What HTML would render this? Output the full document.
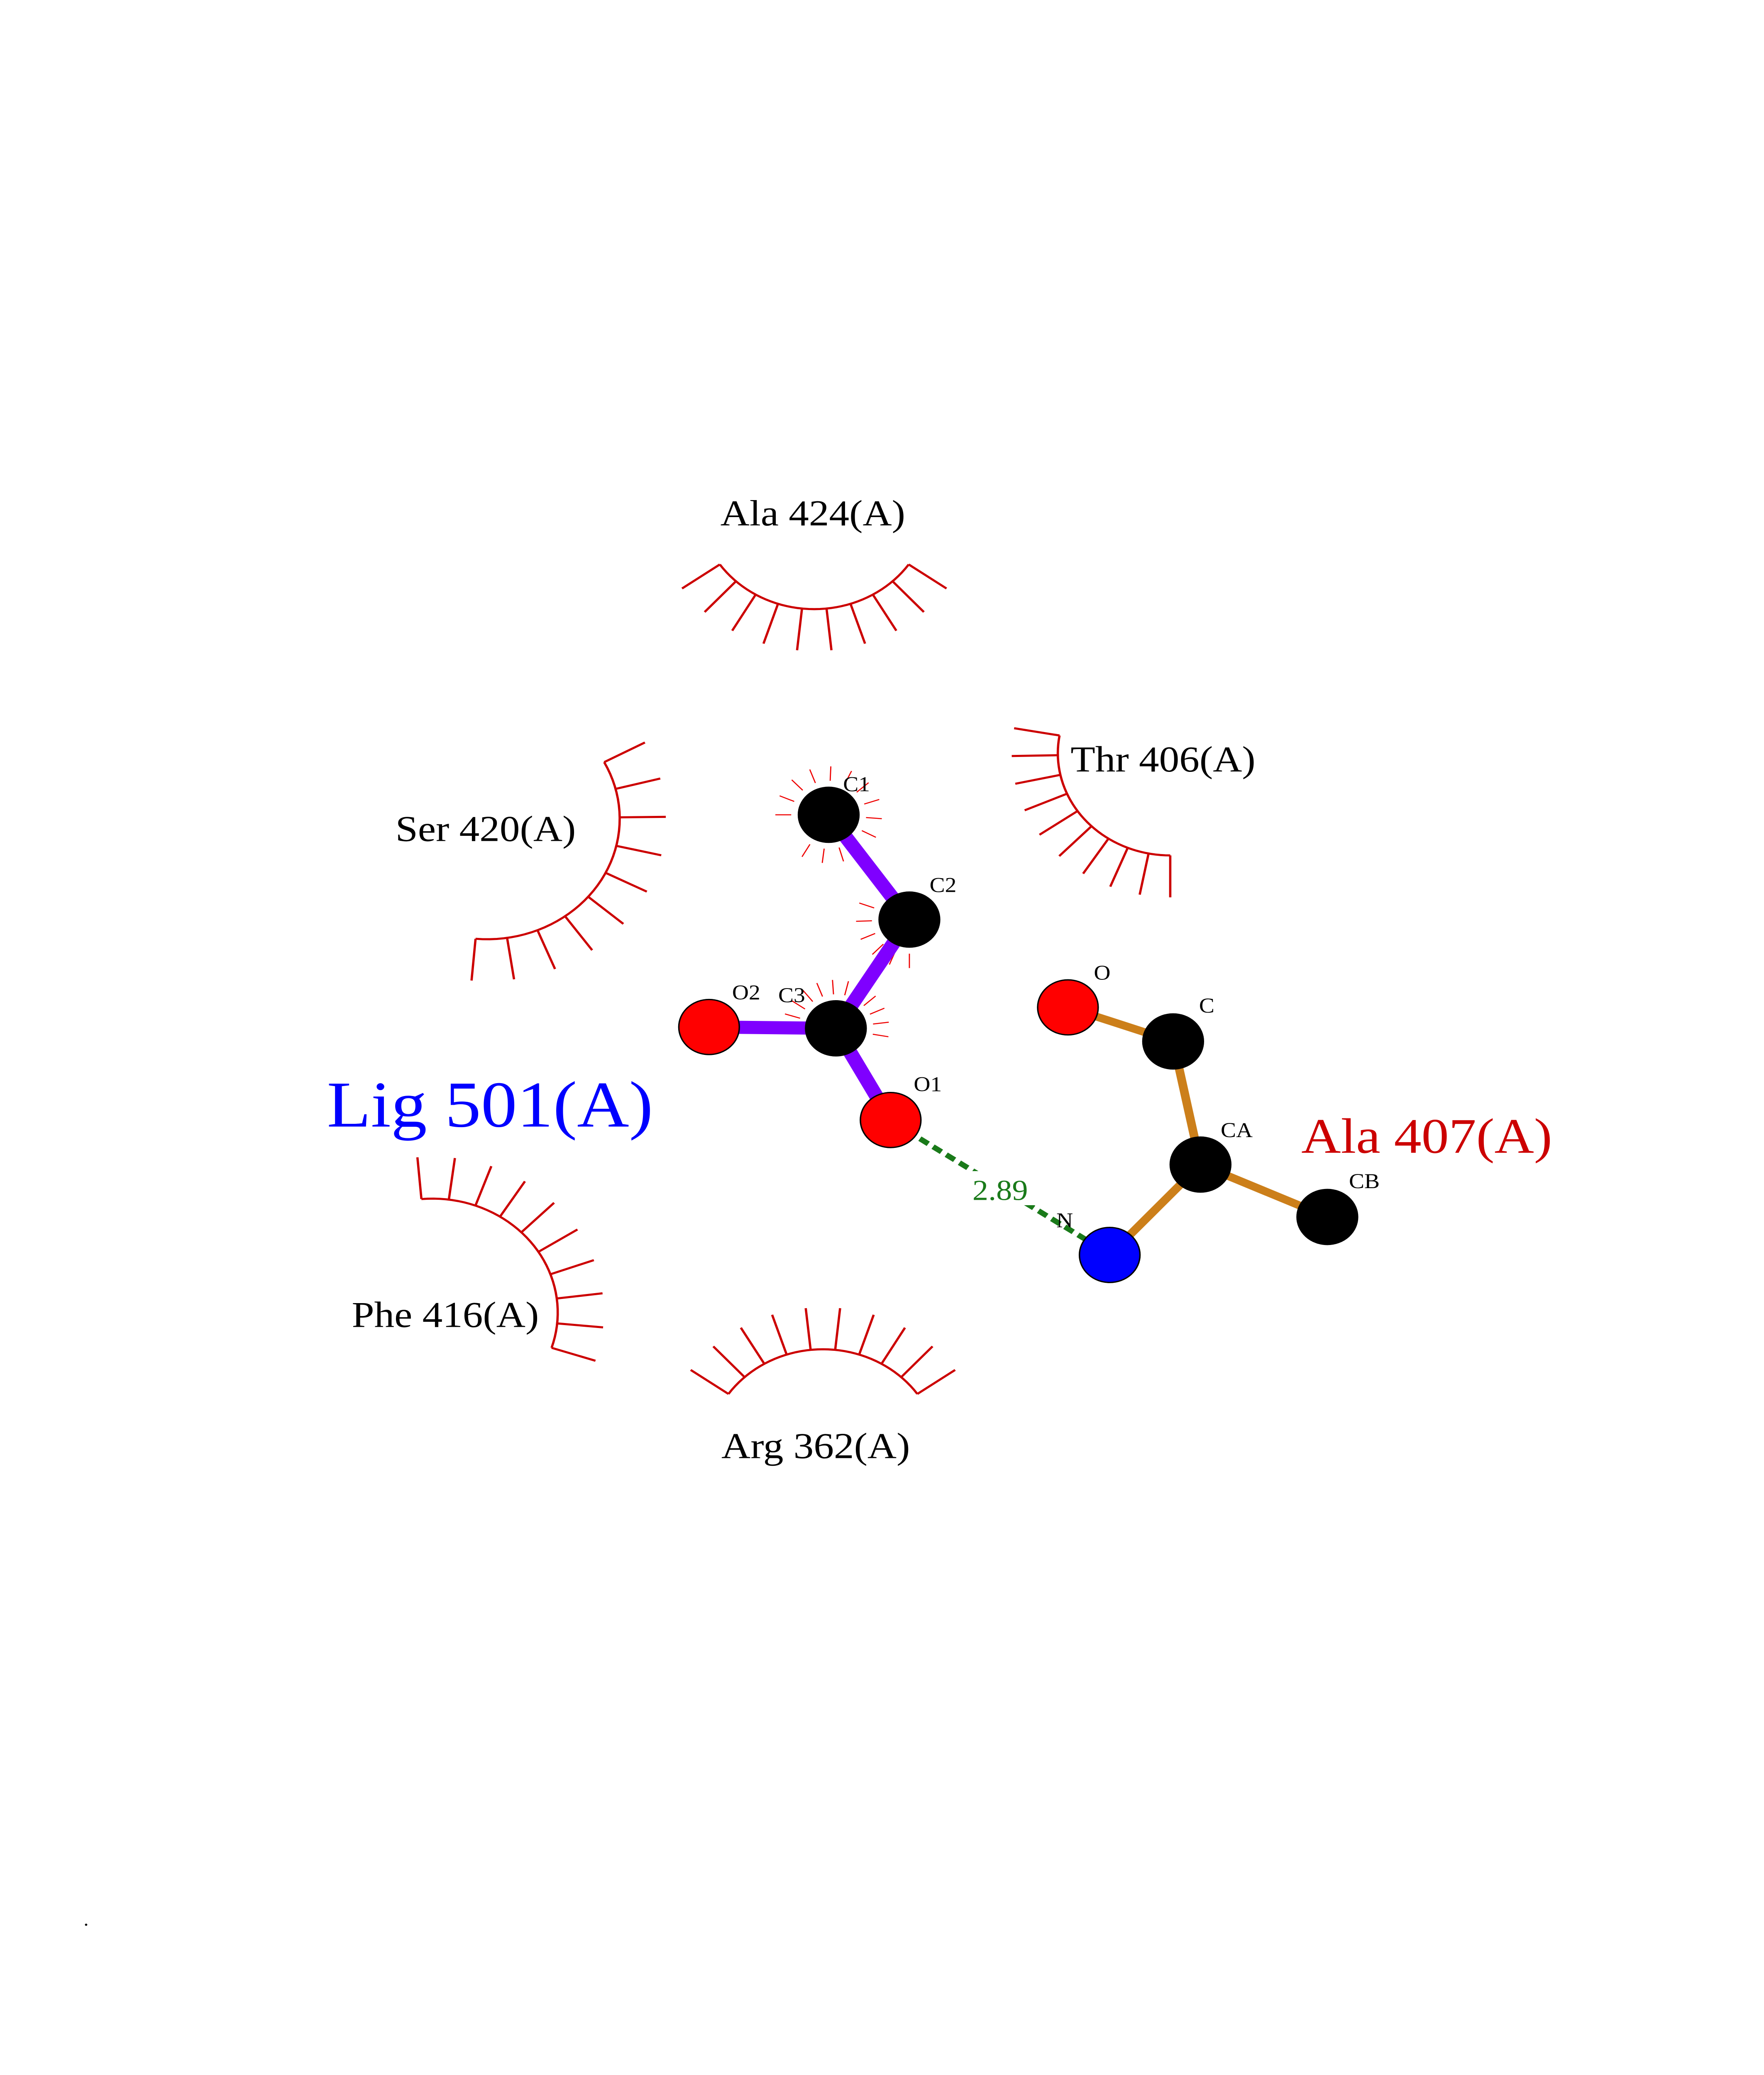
<!DOCTYPE html>
<html><head><meta charset="utf-8"><style>
html,body{margin:0;padding:0;background:#fff;width:100%;height:100%;overflow:hidden;}
svg{display:block;position:absolute;left:0;top:0;width:100vw;height:100vh;}
text{font-family:"Liberation Serif",serif;}
</style></head><body>
<svg id="s" viewBox="0 0 1224 1584" preserveAspectRatio="none" xmlns="http://www.w3.org/2000/svg">
<rect width="1224" height="1584" fill="#fff"/>
<g id="arcs" stroke="#cc0000" stroke-width="1.6" fill="none"></g>
<g id="spk" stroke="#ee0000" stroke-width="0.8"></g>
<line x1="620" y1="857" x2="768" y2="956" stroke="#1a7a1a" stroke-width="4" stroke-dasharray="7,4"/>
<rect x="666" y="894" width="56" height="26" fill="#fff"/>
<text x="694" y="916" font-size="22" fill="#1a7a1a" text-anchor="middle">2.89</text>
<g stroke="#7f00ff" stroke-width="10" stroke-linecap="butt">
<line x1="575" y1="622" x2="631" y2="702"/>
<line x1="631" y1="702" x2="580" y2="785"/>
<line x1="580" y1="785" x2="492" y2="784"/>
<line x1="580" y1="785" x2="618" y2="855"/>
</g>
<g stroke="#cc7f1a" stroke-width="6">
<line x1="741" y1="769" x2="814" y2="795"/>
<line x1="814" y1="795" x2="833" y2="889"/>
<line x1="833" y1="889" x2="770" y2="958"/>
<line x1="833" y1="889" x2="921" y2="929"/>
</g>
<g stroke="#000" stroke-width="1">
<circle cx="575" cy="622" r="21" fill="#000"/>
<circle cx="631" cy="702" r="21" fill="#000"/>
<circle cx="580" cy="785" r="21" fill="#000"/>
<circle cx="492" cy="784" r="21" fill="#ff0000"/>
<circle cx="618" cy="855" r="21" fill="#ff0000"/>
<circle cx="741" cy="769" r="21" fill="#ff0000"/>
<circle cx="814" cy="795" r="21" fill="#000"/>
<circle cx="833" cy="889" r="21" fill="#000"/>
<circle cx="921" cy="929" r="21" fill="#000"/>
<circle cx="770" cy="958" r="21" fill="#0000ff"/>
</g>
<g font-size="16" fill="#000">
<text x="585" y="604">C1</text>
<text x="645" y="681">C2</text>
<text x="540" y="765">C3</text>
<text x="508" y="763">O2</text>
<text x="634" y="833">O1</text>
<text x="759" y="748">O</text>
<text x="832" y="773">C</text>
<text x="847" y="868">CA</text>
<text x="936" y="907">CB</text>
<text x="733" y="937">N</text>
</g>
<g font-size="28" fill="#000" text-anchor="middle">
<text x="564" y="401">Ala 424(A)</text>
<text x="807" y="589">Thr 406(A)</text>
<text x="337" y="642">Ser 420(A)</text>
<text x="309" y="1013">Phe 416(A)</text>
<text x="566" y="1113">Arg 362(A)</text>
</g>
<text x="340" y="860" font-size="50" fill="#0000ff" text-anchor="middle">Lig 501(A)</text>
<text x="990" y="880" font-size="38" fill="#cc0000" text-anchor="middle">Ala 407(A)</text>
<text x="58" y="1470" font-size="14">.</text>
</svg>
<script>
var NS="http://www.w3.org/2000/svg";
var arcs=document.getElementById("arcs"),spk=document.getElementById("spk");
function L(g,x1,y1,x2,y2){var l=document.createElementNS(NS,"line");l.setAttribute("x1",x1);l.setAttribute("y1",y1);l.setAttribute("x2",x2);l.setAttribute("y2",y2);g.appendChild(l);}
function arc(cx,cy,r,a0,a1,n,len){
 var p=document.createElementNS(NS,"path");var d="";
 for(var i=0;i<=40;i++){var a=(a0+(a1-a0)*i/40)*Math.PI/180;d+=(i?"L":"M")+(cx+r*Math.cos(a))+","+(cy+r*Math.sin(a));}
 p.setAttribute("d",d);arcs.appendChild(p);
 for(var i=0;i<n;i++){var a=(a0+(a1-a0)*i/(n-1))*Math.PI/180;
  L(arcs,cx+r*Math.cos(a),cy+r*Math.sin(a),cx+(r+len)*Math.cos(a),cy+(r+len)*Math.sin(a));}
}
arc(565,385,80,145,35,10,32);
arc(571,1110,80,215,325,10,32);
arc(812,575,78,90,190,10,32);
arc(338,625,92,-28,95,10,32);
arc(300,1002,87,-95,18,10,32);
function star(cx,cy,a0,a1,n){for(var i=0;i<n;i++){var a=(a0+(a1-a0)*i/(n-1))*Math.PI/180;
 L(spk,cx+26*Math.cos(a),cy+26*Math.sin(a),cx+37*Math.cos(a),cy+37*Math.sin(a));}}
star(575,622,-180,120,14);
star(631,702,90,200,6);
star(580,785,180,370,12);
</script>
</body></html>
